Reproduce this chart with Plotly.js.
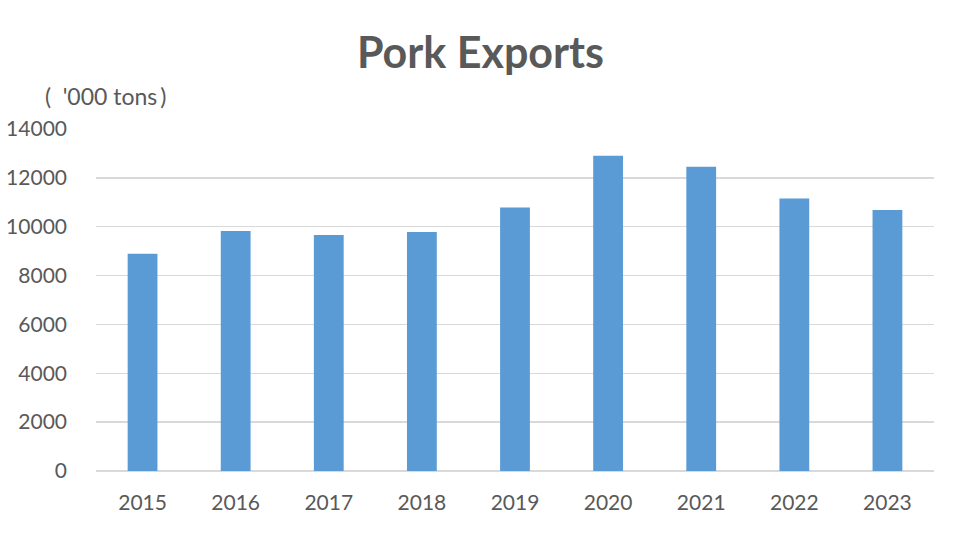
<!DOCTYPE html>
<html>
<head>
<meta charset="utf-8">
<script src="https://cdn.plot.ly/plotly-3.0.1.min.js"></script>
<style>html,body{margin:0;padding:0;background:#fff;}#chart{width:961px;height:555px;}</style>
</head>
<body>
<div id="chart"></div>
<script>
const years = ['2015','2016','2017','2018','2019','2020','2021','2022','2023'];
const exportsK = [8890, 9820, 9660, 9780, 10790, 12900, 12450, 11150, 10680];
const yTicks = [0, 2000, 4000, 6000, 8000, 10000, 12000, 14000];
const chartTitle = 'Pork Exports';
const unitText = "'000 tons";

const FONT = 'Lato, "Open Sans", sans-serif';
const trace = {
  type: 'bar',
  x: years,
  y: exportsK,
  marker: {color: '#5B9BD5', line: {width: 0}},
  hoverinfo: 'x+y'
};
const layout = {
  width: 961, height: 555,
  margin: {l: 96, r: 27, t: 129, b: 84},
  paper_bgcolor: '#ffffff', plot_bgcolor: '#ffffff',
  bargap: 0.68,
  showlegend: false,
  title: {text: '<b>' + chartTitle + '</b>', font: {family: FONT, size: 43, color: '#595959'},
          x: 0.5, xanchor: 'center', y: 0.905, yanchor: 'middle'},
  xaxis: {type: 'category', showgrid: false, zeroline: false, showline: false,
          tickfont: {family: FONT, size: 21, color: '#595959'}, ticks: '', ticklabelstandoff: 17},
  yaxis: {range: [0, 14000], tickvals: yTicks, ticktext: yTicks.map(String),
          showgrid: true, gridcolor: '#d9d9d9', gridwidth: 1.5, zeroline: true, zerolinecolor: '#d9d9d9', zerolinewidth: 1.5,
          showline: false, ticks: '', tickfont: {family: FONT, size: 21, color: '#595959'}, ticklabelstandoff: 28},
  annotations: [{text: '(\u2002' + unitText + '\u2009)', xref: 'paper', yref: 'paper', x: -0.063, y: 1.097, xanchor: 'left', yanchor: 'middle',
                 showarrow: false, font: {family: FONT, size: 23, color: '#595959'}}]
};
Plotly.newPlot('chart', [trace], layout, {displayModeBar: false, staticPlot: true});
</script>
</body>
</html>
